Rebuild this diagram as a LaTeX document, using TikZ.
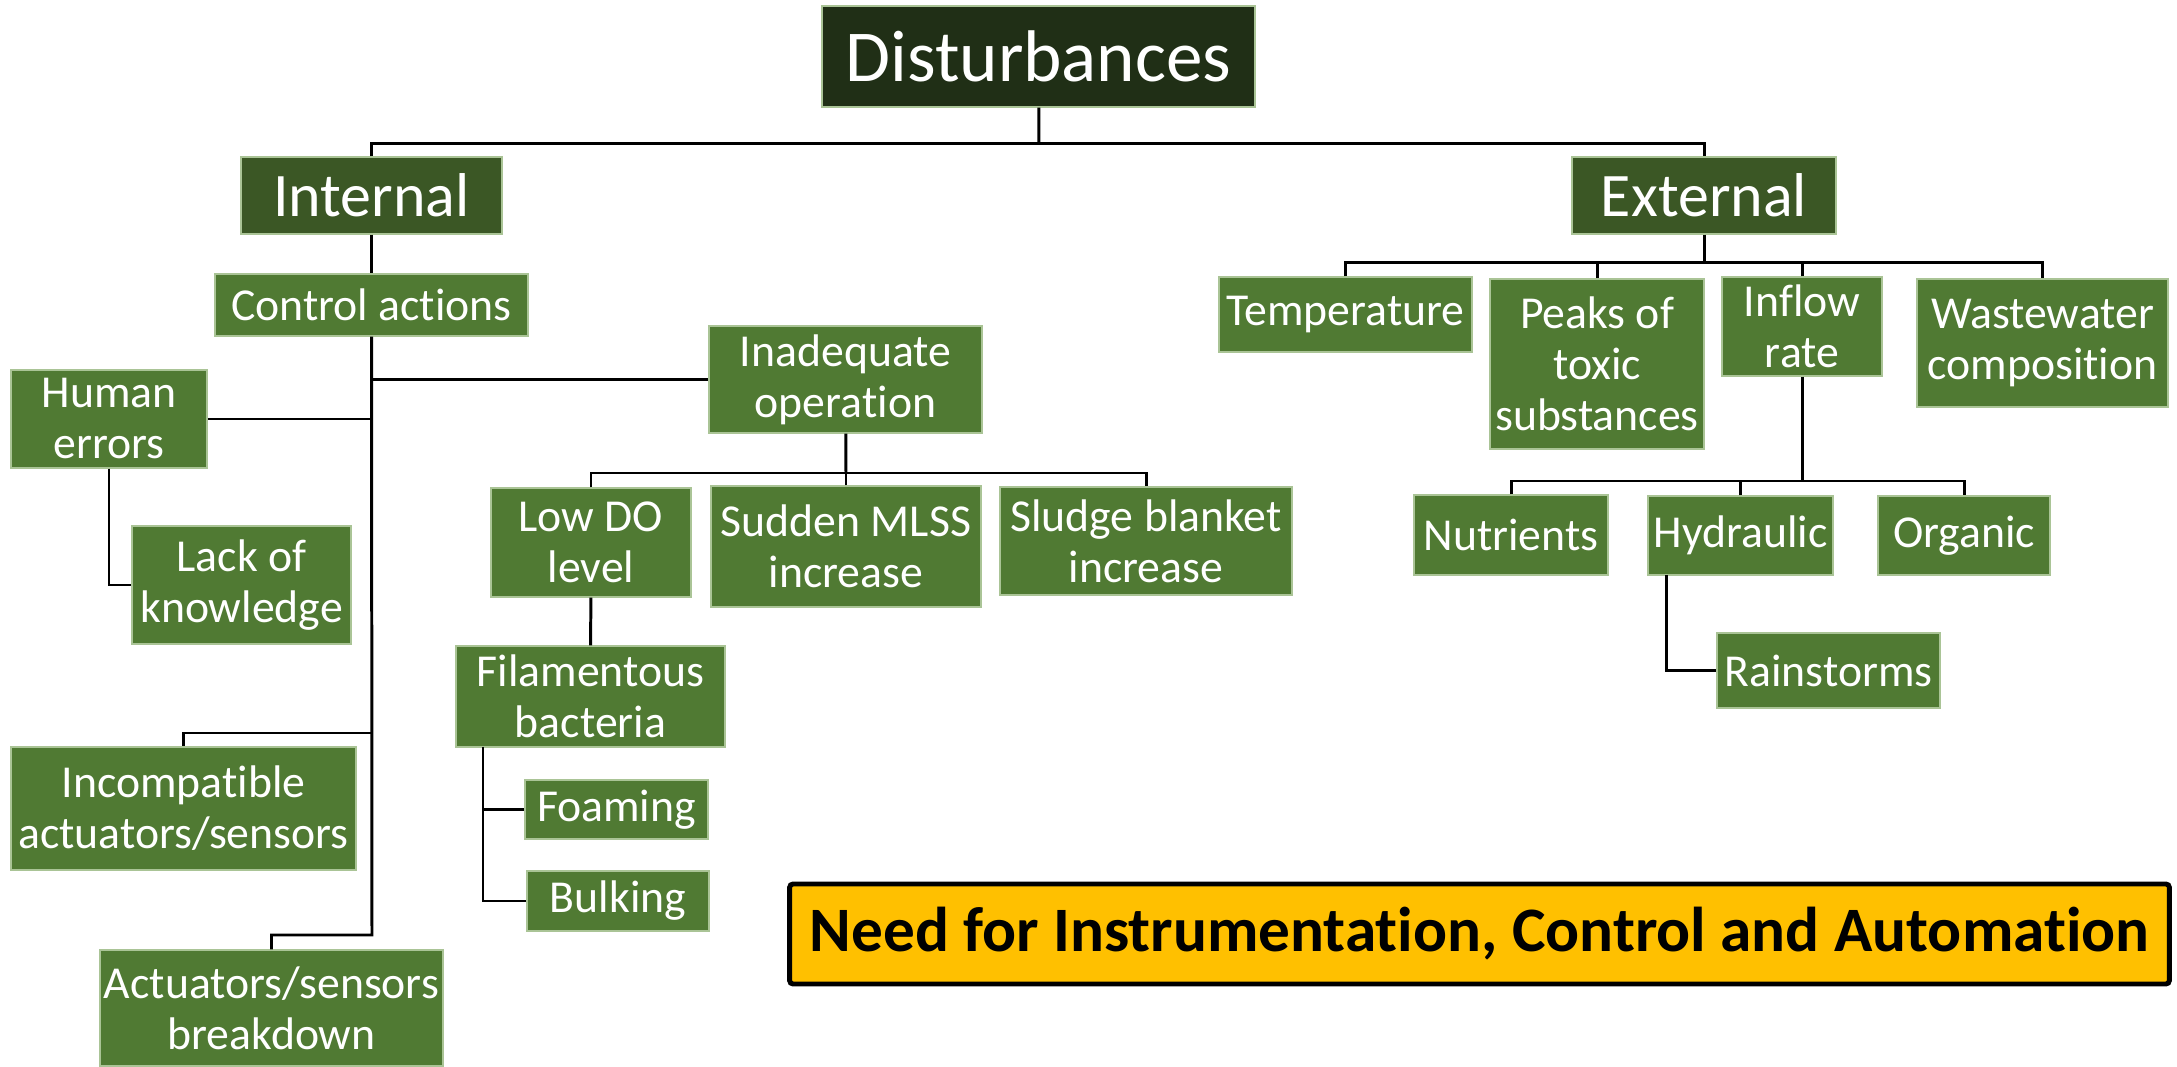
\documentclass[tikz,border=0pt]{standalone}
\usepackage{fontspec}
\setmainfont{Carlito}[Ligatures=CommonOff]
\definecolor{rootgreen}{RGB}{32,47,22}
\definecolor{branchgreen}{RGB}{59,87,37}
\definecolor{leafgreen}{RGB}{80,122,51}
\definecolor{leafedge}{RGB}{170,196,150}
\definecolor{needgold}{RGB}{255,192,0}
\usepackage{tikz}
\usetikzlibrary{arrows,shapes}
\tikzstyle{cause}=[rectangle,fill=leafgreen,draw=leafedge,line width=0.4pt,text=white,align=center,inner sep=0pt,font=\fontsize{13}{14.5}\selectfont]
\tikzstyle{branch}=[cause,fill=branchgreen,font=\fontsize{17.6}{19}\selectfont]
\tikzstyle{root}=[cause,fill=rootgreen,font=\fontsize{20.8}{22}\selectfont]
\tikzstyle{need}=[rectangle,fill=needgold,draw=black,line width=1.4pt,rounded corners=1pt,inner sep=0pt,font=\bfseries\fontsize{18}{20}\selectfont]
\tikzstyle{edge} = [draw,line width=0.85pt,-]

\begin{document}
\begin{tikzpicture}[x=0.01cm,y=-0.01cm]

            \useasboundingbox (0,0) rectangle (2177,1067);

            \node[root, minimum width=4.33cm, minimum height=1.01cm] (dist) at (1038.5,56.5) {Disturbances};
            \node[branch, minimum width=2.61cm, minimum height=0.77cm] (int) at (371.5,195.5) {Internal};
            \node[branch, minimum width=2.64cm, minimum height=0.77cm] (ext) at (1704,195.5) {External};

            \node[cause, minimum width=3.13cm, minimum height=0.62cm] (ctrl) at (371.5,305) {Control actions};
            \node[cause, minimum width=2.73cm, minimum height=1.07cm] (inad) at (845.5,379.5) {Inadequate\\operation};
            \node[cause, minimum width=1.96cm, minimum height=0.98cm] (human) at (109,419) {Human\\errors};
            \node[cause, minimum width=2.19cm, minimum height=1.18cm] (lack) at (241.5,585) {Lack of\\knowledge};
            \node[cause, minimum width=3.45cm, minimum height=1.23cm] (incomp) at (183.5,808.5) {Incompatible\\actuators/sensors};
            \node[cause, minimum width=3.43cm, minimum height=1.16cm] (brk) at (271.5,1008) {Actuators/sensors\\breakdown};
            \node[cause, minimum width=2.00cm, minimum height=1.09cm] (lowdo) at (591,542.5) {Low DO\\level};
            \node[cause, minimum width=2.70cm, minimum height=1.21cm] (mlss) at (846,546.5) {Sudden MLSS\\increase};
            \node[cause, minimum width=2.92cm, minimum height=1.08cm] (sludge) at (1146,541) {Sludge blanket\\increase};
            \node[cause, minimum width=2.69cm, minimum height=1.01cm] (fila) at (590.5,696.5) {Filamentous\\bacteria};
            \node[cause, minimum width=1.83cm, minimum height=0.59cm] (foam) at (616.5,809.5) {Foaming};
            \node[cause, minimum width=1.82cm, minimum height=0.60cm] (bulk) at (618,901) {Bulking};

            \node[cause, minimum width=2.53cm, minimum height=0.75cm] (temp) at (1345.5,314.5) {Temperature};
            \node[cause, minimum width=2.14cm, minimum height=1.70cm] (peaks) at (1597,364) {Peaks of\\toxic\\substances};
            \node[cause, minimum width=1.60cm, minimum height=0.99cm] (inflow) at (1802,326.5) {Inflow\\rate};
            \node[cause, minimum width=2.51cm, minimum height=1.28cm] (waste) at (2042.5,343) {Wastewater\\composition};
            \node[cause, minimum width=1.94cm, minimum height=0.80cm] (nutr) at (1511,535) {Nutrients};
            \node[cause, minimum width=1.85cm, minimum height=0.79cm] (hydr) at (1740.5,535.5) {Hydraulic};
            \node[cause, minimum width=1.72cm, minimum height=0.79cm] (org) at (1964,535.5) {Organic};
            \node[cause, minimum width=2.23cm, minimum height=0.75cm] (rain) at (1828.5,670.5) {Rainstorms};

            \node[need, minimum width=13.79cm, minimum height=1.00cm] (need) at (1479.5,934) {Need for Instrumentation, Control and Automation};

            \coordinate (dbus) at (1039,144);
            \coordinate (ctrlend) at (372,935);
            \coordinate (incj) at (372,733);
            \coordinate (inadj) at (846,473);
            \coordinate (filaj) at (483,747);
            \coordinate (extj) at (1704,263);
            \coordinate (infj) at (1802,481);
            \coordinate (hydrj) at (1666,575);

            \path[edge] (dist) -- (dbus);
            \path[edge] (int.north) |- (dbus) -| (ext.north);
            \path[edge] (int) -- (ctrl);
            \path[edge] (ctrl) -- (ctrlend) -| (brk.north);
            \path[edge] (inad.west) -- (inad.west -| ctrlend);
            \path[edge] (human.east) -- (human.east -| ctrlend);
            \path[edge] (human.south) |- (lack.west);
            \path[edge] (incj) -| (incomp.north);
            \path[edge] (inad) -- (inadj);
            \path[edge] (lowdo.north) |- (inadj) -| (sludge.north);
            \path[edge] (mlss) -- (inadj);
            \path[edge] (lowdo) -- (fila);
            \path[edge] (filaj) |- (foam.west);
            \path[edge] (filaj) |- (bulk.west);

            \path[edge] (ext) -- (extj);
            \path[edge] (temp.north) |- (extj) -| (waste.north);
            \path[edge] (peaks) -- (peaks |- extj);
            \path[edge] (inflow) -- (inflow |- extj);
            \path[edge] (inflow) -- (infj);
            \path[edge] (nutr.north) |- (infj) -| (org.north);
            \path[edge] (hydr) -- (hydr |- infj);
            \path[edge] (hydrj) |- (rain.west);

        \end{tikzpicture}
\end{document}
